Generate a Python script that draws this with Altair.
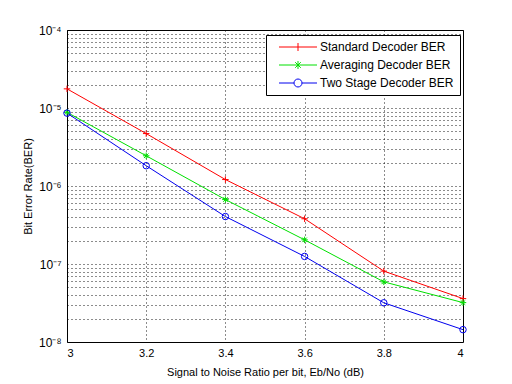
import altair as alt
import pandas as pd

snr = [3.0, 3.2, 3.4, 3.6, 3.8, 4.0]
series_names = ["Standard Decoder BER", "Averaging Decoder BER", "Two Stage Decoder BER"]
standard_ber = [1.76e-5, 4.7e-6, 1.21e-6, 3.8e-7, 8.1e-8, 3.6e-8]
averaging_ber = [8.8e-6, 2.44e-6, 6.7e-7, 2.04e-7, 5.9e-8, 3.2e-8]
twostage_ber = [8.6e-6, 1.82e-6, 4.06e-7, 1.25e-7, 3.18e-8, 1.44e-8]
x_ticks = [3.0, 3.2, 3.4, 3.6, 3.8, 4.0]
y_decades = [-8, -7, -6, -5, -4]

colors = ["#ff0000", "#00e000", "#0000ee"]
marker_paths = [
    "M-1,0H1M0,-1V1",
    "M-1,0H1M0,-1V1M-0.7,-0.7L0.7,0.7M-0.7,0.7L0.7,-0.7",
    "circle",
]
legend_paths = [
    "M-4.75,0H4.75M0,-1V1",
    "M-4.75,0H4.75M0,-1V1M-0.7,-0.7L0.7,0.7M-0.7,0.7L0.7,-0.7",
    "M-4.75,0H-1M1,0H4.75M1,0A1,1 0 1,1 -1,0A1,1 0 1,1 1,0",
]

rows = []
for name, vals in zip(series_names, [standard_ber, averaging_ber, twostage_ber]):
    for xv, yv in zip(snr, vals):
        rows.append({"snr": xv, "ber": yv, "series": name, "lseries": name})
df = pd.DataFrame(rows)

y_values = []
for e in y_decades[:-1]:
    for k in range(1, 10):
        y_values.append(float(f"{k}e{e}"))
y_values.append(1e-4)

sup = {-8: "⁻⁸", -7: "⁻⁷", -6: "⁻⁶", -5: "⁻⁵", -4: "⁻⁴"}
lab = "''"
for e in y_decades:
    lab = f"(round(log(datum.value)/LN10) == {e} ? '10{sup[e]}' : {lab})"
label_expr = f"abs(log(datum.value)/LN10 - round(log(datum.value)/LN10)) > 0.01 ? '' : {lab}"

x_enc = alt.X(
    "snr:Q",
    scale=alt.Scale(domain=[3, 4], nice=False, zero=False),
    axis=alt.Axis(
        values=x_ticks, format="~g", title="Signal to Noise Ratio per bit, Eb/No (dB)",
        grid=True, ticks=False, labelPadding=5, titlePadding=8,
    ),
)
y_enc = alt.Y(
    "ber:Q",
    scale=alt.Scale(type="log", domain=[1e-8, 1e-4], nice=False),
    axis=alt.Axis(
        values=y_values, labelExpr=label_expr, title="Bit Error Rate(BER)",
        grid=True, ticks=False, labelOverlap=False, labelPadding=6, titlePadding=5,
        labelFontSize=12,
    ),
)

color_scale = alt.Scale(domain=series_names, range=colors)

base = alt.Chart(df)
lines = base.mark_line(strokeWidth=1).encode(
    x=x_enc, y=y_enc,
    color=alt.Color("series:N", scale=color_scale, legend=None),
)
points = base.mark_point(filled=False, size=42, strokeWidth=1, opacity=1).encode(
    x=x_enc, y=y_enc,
    color=alt.Color("series:N", scale=color_scale, legend=None),
    shape=alt.Shape("series:N", scale=alt.Scale(domain=series_names, range=marker_paths), legend=None),
)
leg = alt.Legend(
    title=None, orient="none", legendX=199, legendY=5,
    strokeColor="black", fillColor="white", padding=6,
    symbolSize=64, symbolOffset=20, labelOffset=16, symbolOpacity=1,
    symbolStrokeWidth=1, labelFontSize=12, rowPadding=6, cornerRadius=0,
)
legend_layer = base.mark_point(filled=False, opacity=0).encode(
    x=x_enc, y=y_enc,
    color=alt.Color("lseries:N", scale=alt.Scale(domain=series_names, range=colors), legend=leg),
    shape=alt.Shape("lseries:N", scale=alt.Scale(domain=series_names, range=legend_paths), legend=leg),
)

chart = alt.layer(lines, points, legend_layer).resolve_scale(
    color="independent", shape="independent"
).properties(
    width=396, height=312,
    autosize=alt.AutoSizeParams(type="none"),
    padding={"left": 59, "top": 22, "right": 40, "bottom": 40},
    background="white",
).configure_view(
    stroke="black", strokeWidth=1,
).configure_axis(
    domain=False, gridColor="black", gridDash=[1, 3], gridOpacity=0.9, gridWidth=1,
    labelFont="Liberation Sans", titleFont="Liberation Sans", labelFontSize=11,
    titleFontSize=11, titleFontWeight="normal", labelColor="black", titleColor="black",
).configure_legend(
    labelFont="Liberation Sans", labelColor="black",
)

chart.save("out.html", embed_options={"renderer": "svg", "actions": False})
